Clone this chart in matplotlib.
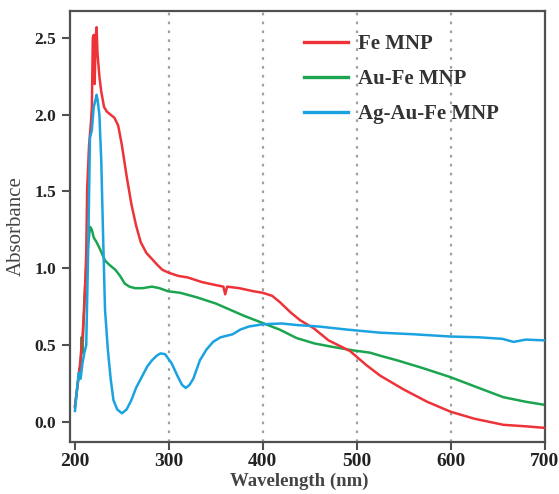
import matplotlib
matplotlib.use("Agg")
import matplotlib.pyplot as plt

# Fe MNP
fe_x = [200, 203, 205, 208, 210, 212, 213, 215, 217, 218, 219, 220, 221, 222, 223, 224, 226, 228, 231, 234,
        238, 242, 246, 250, 255, 260, 265, 270, 276, 282, 288, 293, 300, 310, 320, 335, 350, 358, 360, 362,
        375, 390, 400, 410, 418, 430, 440, 454, 470, 493, 510, 525, 550, 575, 600, 625, 656, 680, 700]
fe_y = [0.10, 0.25, 0.35, 0.55, 0.75, 1.10, 1.52, 1.80, 1.95, 2.05, 2.50, 2.52, 2.20, 2.50, 2.57, 2.40, 2.25, 2.15, 2.05, 2.02,
        2.00, 1.98, 1.93, 1.80, 1.60, 1.42, 1.28, 1.17, 1.10, 1.06, 1.02, 0.99, 0.97, 0.95, 0.94, 0.91, 0.89, 0.88, 0.83, 0.88,
        0.87, 0.85, 0.84, 0.82, 0.78, 0.71, 0.66, 0.61, 0.53, 0.46, 0.37, 0.30, 0.21, 0.13, 0.065, 0.02, -0.02, -0.03, -0.04]

# Au-Fe MNP
aufe_x = [200, 203, 205, 206, 207, 208, 210, 212, 214, 216, 218, 220, 223, 227, 232, 237, 243, 248, 253, 258,
          264, 272, 282, 290, 299, 312, 330, 350, 365, 380, 399, 418, 436, 455, 472, 496, 514, 525, 543, 570,
          600, 630, 656, 680, 700]
aufe_y = [0.10, 0.25, 0.35, 0.30, 0.55, 0.45, 0.80, 1.00, 1.15, 1.27, 1.25, 1.20, 1.17, 1.12, 1.05, 1.02, 0.99, 0.95, 0.90, 0.88,
          0.87, 0.87, 0.88, 0.87, 0.85, 0.84, 0.81, 0.77, 0.73, 0.69, 0.645, 0.60, 0.545, 0.51, 0.49, 0.465, 0.45, 0.43, 0.40, 0.35,
          0.29, 0.22, 0.16, 0.13, 0.11]

# Ag-Au-Fe MNP
agaufe_x = [200, 202, 204, 206, 208, 210, 212, 213, 214, 216, 218, 220, 222, 223, 224, 226, 228, 230, 232, 235,
            238, 241, 245, 250, 255, 260, 265, 271, 277, 282, 287, 291, 296, 303, 309, 314, 318, 322, 326, 333,
            340, 347, 355, 368, 376, 385, 400, 420, 436, 460, 490, 525, 560, 600, 630, 655, 667, 680, 700]
agaufe_y = [0.07, 0.20, 0.32, 0.28, 0.38, 0.45, 0.50, 0.80, 1.10, 1.85, 1.90, 2.05, 2.10, 2.13, 2.10, 2.00, 1.70, 1.20, 0.73, 0.47,
            0.28, 0.14, 0.08, 0.055, 0.08, 0.14, 0.22, 0.29, 0.36, 0.40, 0.43, 0.445, 0.44, 0.38, 0.30, 0.24, 0.22, 0.24, 0.28, 0.40,
            0.47, 0.52, 0.55, 0.57, 0.60, 0.62, 0.635, 0.64, 0.63, 0.62, 0.60, 0.58, 0.57, 0.555, 0.55, 0.54, 0.52, 0.535, 0.53]

series_labels = ["Fe MNP", "Au-Fe MNP", "Ag-Au-Fe MNP"]
colors = ["#EE3338", "#1BA550", "#1AA3E0"]
xticks = [200, 300, 400, 500, 600, 700]
yticks = [0.0, 0.5, 1.0, 1.5, 2.0, 2.5]
grid_x = [300, 400, 500, 600]

plt.rcParams["font.family"] = ["Liberation Serif", "DejaVu Serif"]

fig = plt.figure(figsize=(5.59, 4.94), dpi=100)
ax = fig.add_axes([0.1252, 0.1053, 0.8498, 0.8725])

for gx in grid_x:
    ax.axvline(gx, color="#A0A0A0", linestyle=(0, (1.2, 2.8)), linewidth=1.6, zorder=0)

ax.plot(fe_x, fe_y, color=colors[0], lw=1.8, label=series_labels[0], zorder=3)
ax.plot(aufe_x, aufe_y, color=colors[1], lw=1.8, label=series_labels[1], zorder=2)
ax.plot(agaufe_x, agaufe_y, color=colors[2], lw=1.8, label=series_labels[2], zorder=4)

ax.set_xlim(194.7, 700.5)
ax.set_ylim(-0.132, 2.676)
ax.set_xticks(xticks)
ax.set_xticklabels([str(v) for v in xticks])
ax.set_yticks(yticks)
ax.set_yticklabels([f"{v:.1f}" for v in yticks])

for s in ax.spines.values():
    s.set_linewidth(1.6)
    s.set_color("#505050")
ax.tick_params(direction="out", length=6, width=1.5, color="#505050")
ax.tick_params(axis="x", labelsize=14, pad=2)
ax.tick_params(axis="y", labelsize=12.5, pad=4)
for lab in ax.get_xticklabels() + ax.get_yticklabels():
    lab.set_fontweight("bold")
    lab.set_color("#222222")

ax.set_xlabel("Wavelength (nm)", fontsize=13.5, fontweight="bold", color="#444444")
ax.xaxis.set_label_coords(0.482, -0.071)
ax.set_ylabel("Absorbance", fontsize=15, color="#444444")
ax.yaxis.set_label_coords(-0.093, 0.5)

leg = ax.legend(loc="upper left", bbox_to_anchor=(0.4926, 0.946), frameon=False,
                handlelength=2.1, handletextpad=0.48, labelspacing=0.72, borderpad=0, borderaxespad=0,
                prop={"weight": "bold", "size": 15})
for t in leg.get_texts():
    t.set_color("#333333")
for h in leg.get_lines():
    h.set_linewidth(2.4)

fig.savefig("out.png", dpi=100)
